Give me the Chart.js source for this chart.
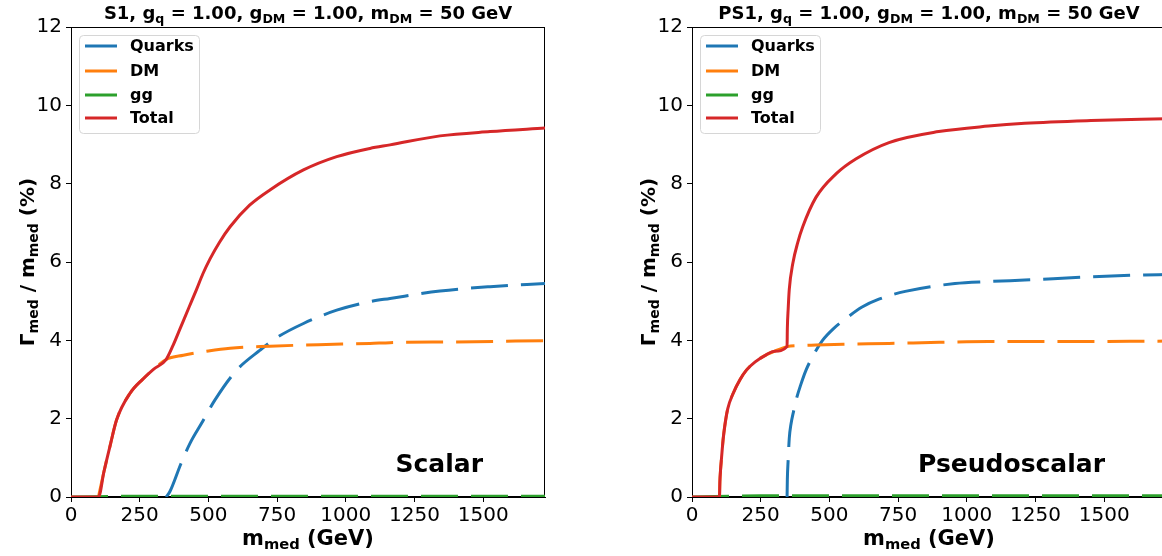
<!DOCTYPE html>
<html>
<head>
<meta charset="utf-8">
<script src="https://cdn.jsdelivr.net/npm/chart.js@4.4.1/dist/chart.umd.min.js"></script>
<style>
  html, body { margin: 0; padding: 0; background: #fff; width: 1162px; height: 556px; overflow: hidden; position: relative; }
  canvas { position: absolute; top: 0; }
  .txt { position: absolute; font-family: "DejaVu Sans", sans-serif; font-weight: bold; color: #000; white-space: nowrap; line-height: 1; }
  .sb { position: relative; top: 0.3em; font-size: 0.7em; }
  .title { font-size: 18px; text-align: center; width: 474px; }
  .xlab { font-size: 21px; text-align: center; width: 474px; }
  .ylab { font-size: 20px; text-align: center; width: 300px; transform: rotate(-90deg); }
  .ann { font-size: 25px; text-align: right; width: 300px; }
</style>
</head>
<body>
<canvas id="c1" width="560" height="556" style="left:0px"></canvas>
<canvas id="c2" width="560" height="556" style="left:621px"></canvas>

<div class="txt title" style="left:71px; top:4px">S1, g<span class="sb">q</span> = 1.00, g<span class="sb">DM</span> = 1.00, m<span class="sb">DM</span> = 50 GeV</div>
<div class="txt title" style="left:692px; top:4px">PS1, g<span class="sb">q</span> = 1.00, g<span class="sb">DM</span> = 1.00, m<span class="sb">DM</span> = 50 GeV</div>
<div class="txt xlab" style="left:71px; top:528px">m<span class="sb">med</span> (GeV)</div>
<div class="txt xlab" style="left:692px; top:528px">m<span class="sb">med</span> (GeV)</div>
<div class="txt ylab" style="left:-123px; top:252px">Γ<span class="sb">med</span> / m<span class="sb">med</span> (%)</div>
<div class="txt ylab" style="left:498px; top:252px">Γ<span class="sb">med</span> / m<span class="sb">med</span> (%)</div>
<div class="txt ann" style="left:183px; top:451px">Scalar</div>
<div class="txt ann" style="left:805px; top:451px">Pseudoscalar</div>

<script>
// ---- tick labels ----
const xTicks = [0, 250, 500, 750, 1000, 1250, 1500];
const yTicks = [0, 2, 4, 6, 8, 10, 12];
const seriesNames = ['Quarks', 'DM', 'gg', 'Total'];

// ---- S1 (scalar) ----
const s1QuarksX = [346, 360, 400, 433, 480, 524, 603, 688, 749, 846, 967, 1088, 1161, 1343, 1525, 1725];
const s1QuarksY = [0, 0.14, 0.85, 1.37, 1.94, 2.48, 3.24, 3.75, 4.07, 4.43, 4.77, 4.99, 5.07, 5.26, 5.37, 5.45];
const s1DMX = [100, 120, 142, 166, 215, 263, 300, 346, 409, 500, 579, 724, 900, 1088, 1161, 1400, 1725];
const s1DMY = [0, 0.65, 1.3, 1.97, 2.65, 3.02, 3.26, 3.51, 3.62, 3.73, 3.80, 3.85, 3.89, 3.92, 3.94, 3.96, 3.99];
const s1ggX = [0, 250, 500, 750, 1000, 1250, 1500, 1725];
const s1ggY = [0, 0.02, 0.02, 0.02, 0.02, 0.02, 0.02, 0.02];
const s1TotalX = [0, 100, 120, 142, 166, 215, 263, 300, 346, 370, 397, 430, 457, 480, 506, 540, 579, 650, 724, 846, 967, 1088, 1161, 1343, 1525, 1725];
const s1TotalY = [0, 0, 0.65, 1.3, 1.97, 2.65, 3.02, 3.26, 3.51, 3.85, 4.3, 4.85, 5.3, 5.7, 6.08, 6.5, 6.9, 7.45, 7.84, 8.35, 8.69, 8.9, 8.99, 9.22, 9.33, 9.42];

// ---- PS1 (pseudoscalar) ----
const ps1QuarksX = [346, 347, 350, 354, 360, 370, 379, 395, 415, 440, 475, 515, 559, 619, 680, 776, 957, 1079, 1211, 1452, 1646, 1725];
const ps1QuarksY = [0, 0.45, 0.95, 1.5, 1.85, 2.2, 2.48, 2.85, 3.24, 3.6, 4.0, 4.3, 4.55, 4.85, 5.05, 5.25, 5.45, 5.5, 5.54, 5.62, 5.67, 5.68];
const ps1DMX = [100, 101.5, 104, 107.5, 113, 119, 130, 150, 175, 198, 230, 270, 300, 346, 400, 451, 550, 717, 900, 1079, 1332, 1725];
const ps1DMY = [0, 0.4, 0.7, 1.0, 1.45, 1.8, 2.25, 2.65, 3.0, 3.24, 3.45, 3.63, 3.72, 3.84, 3.87, 3.88, 3.9, 3.92, 3.95, 3.97, 3.97, 3.98];
const ps1ggX = [0, 250, 500, 750, 1000, 1250, 1500, 1725];
const ps1ggY = [0, 0.03, 0.03, 0.03, 0.03, 0.03, 0.03, 0.03];
const ps1TotalX = [0, 100, 101.5, 104, 107.5, 113, 119, 130, 150, 175, 198, 230, 270, 300, 346, 347, 350, 354, 367, 385, 403, 451, 524, 596, 717, 898, 1079, 1211, 1452, 1725];
const ps1TotalY = [0, 0, 0.4, 0.7, 1.0, 1.45, 1.8, 2.25, 2.65, 3.0, 3.24, 3.45, 3.63, 3.72, 3.84, 4.3, 4.8, 5.3, 5.97, 6.5, 6.9, 7.65, 8.25, 8.63, 9.05, 9.33, 9.47, 9.54, 9.61, 9.66];

const colors = ['#1f77b4', '#ff7f0e', '#2ca02c', '#d62728'];
const X_MAX = 1725, Y_MAX = 12;

function pts(xs, ys) { return xs.map((x, i) => ({ x: x, y: ys[i] })); }

const frameLegendPlugin = {
  id: 'frameLegend',
  beforeDatasetsDraw(chart) {
    const { ctx, chartArea: a } = chart;
    ctx.save();
    ctx.strokeStyle = '#000';
    ctx.lineWidth = 1;
    ctx.strokeRect(a.left + 0.5, a.top + 0.5, a.right - a.left - 1, a.bottom - a.top - 1);
    ctx.restore();
  },
  afterDatasetsDraw(chart) {
    const { ctx, chartArea: a } = chart;
    ctx.save();
    const bx = a.left + 8.5, by = a.top + 8.5, bw = 120, bh = 98, r = 4;
    ctx.beginPath();
    ctx.moveTo(bx + r, by);
    ctx.arcTo(bx + bw, by, bx + bw, by + bh, r);
    ctx.arcTo(bx + bw, by + bh, bx, by + bh, r);
    ctx.arcTo(bx, by + bh, bx, by, r);
    ctx.arcTo(bx, by, bx + bw, by, r);
    ctx.closePath();
    ctx.fillStyle = 'rgba(255,255,255,0.8)';
    ctx.fill();
    ctx.strokeStyle = '#d6d6d6';
    ctx.lineWidth = 1;
    ctx.stroke();
    const rows = [19, 44, 68, 91];
    ctx.font = 'bold 16px "DejaVu Sans"';
    ctx.textBaseline = 'middle';
    ctx.textAlign = 'left';
    seriesNames.forEach((name, i) => {
      const y = a.top + rows[i];
      ctx.beginPath();
      ctx.setLineDash([]);
      ctx.strokeStyle = colors[i];
      ctx.lineWidth = 3;
      ctx.moveTo(a.left + 14, y);
      ctx.lineTo(a.left + 46, y);
      ctx.stroke();
      ctx.fillStyle = '#000';
      ctx.fillText(name, a.left + 59, y + 1);
    });
    ctx.restore();
  }
};

function makeChart(id, q, d, g, t) {
  const mk = (i, data, dashed, order) => ({
    label: seriesNames[i],
    data: data,
    borderColor: colors[i],
    backgroundColor: colors[i],
    borderWidth: 3,
    borderDash: dashed ? [37, 13] : [],
    borderCapStyle: 'butt',
    pointRadius: 0,
    fill: false,
    cubicInterpolationMode: 'monotone',
    order: order
  });
  return new Chart(document.getElementById(id), {
    type: 'line',
    data: {
      datasets: [
        mk(0, q, true, 3),
        mk(1, d, true, 2),
        mk(2, g, true, 1),
        mk(3, t, false, 0)
      ]
    },
    options: {
      responsive: false,
      animation: false,
      devicePixelRatio: 1,
      layout: { padding: { top: 27, right: 15, left: 0, bottom: 0 } },
      plugins: { legend: { display: false }, tooltip: { enabled: false }, title: { display: false } },
      scales: {
        x: {
          type: 'linear', min: 0, max: X_MAX,
          afterBuildTicks: (ax) => { ax.ticks = xTicks.map(v => ({ value: v })); },
          afterFit: (ax) => { ax.height = 59; },
          ticks: { color: '#000', font: { family: 'DejaVu Sans', size: 20 }, padding: 2, maxRotation: 0, autoSkip: false, callback: (v) => String(v) },
          grid: { drawOnChartArea: false, drawTicks: true, tickLength: 5, color: '#000', tickWidth: 1 },
          border: { display: true, color: '#000', width: 1 }
        },
        y: {
          type: 'linear', min: 0, max: Y_MAX,
          afterBuildTicks: (ax) => { ax.ticks = yTicks.map(v => ({ value: v })); },
          afterFit: (ax) => { ax.width = 71; },
          ticks: { color: '#000', font: { family: 'DejaVu Sans', size: 20 }, padding: 4, callback: (v) => String(v) },
          grid: { drawOnChartArea: false, drawTicks: true, tickLength: 5, color: '#000', tickWidth: 1 },
          border: { display: true, color: '#000', width: 1 }
        }
      }
    },
    plugins: [frameLegendPlugin]
  });
}

makeChart('c1', pts(s1QuarksX, s1QuarksY), pts(s1DMX, s1DMY), pts(s1ggX, s1ggY), pts(s1TotalX, s1TotalY));
makeChart('c2', pts(ps1QuarksX, ps1QuarksY), pts(ps1DMX, ps1DMY), pts(ps1ggX, ps1ggY), pts(ps1TotalX, ps1TotalY));
</script>
</body>
</html>
